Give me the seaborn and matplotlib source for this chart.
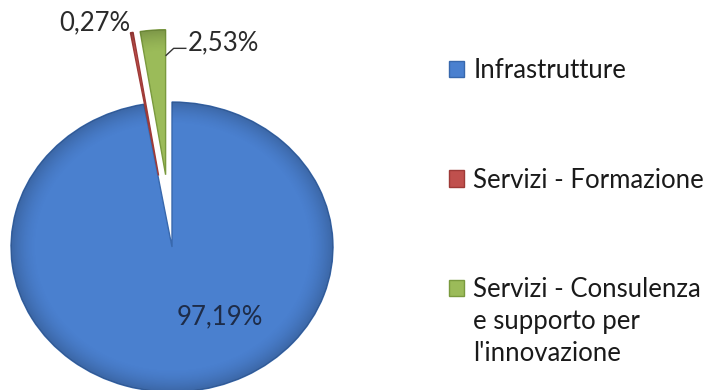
import matplotlib
matplotlib.use("Agg")
import matplotlib.pyplot as plt
import numpy as np
import seaborn as sns

# Shares of funding by type of intervention (percent)
categories = [
    "Infrastrutture",
    "Servizi - Formazione",
    "Servizi - Consulenza\ne supporto per\nl'innovazione",
]
shares = [97.19, 0.27, 2.53]
explode = [0.0, 0.5, 0.5]
colors = ["#4A80CF", "#C0504D", "#9BBB59"]
edge_colors = ["#3868AD", "#9E3A37", "#7A9A3E"]

sns.set_theme(style="white")
plt.rcParams["font.family"] = ["Lato", "DejaVu Sans"]

W, H = 712, 390
fig = plt.figure(figsize=(W / 100, H / 100), dpi=100)
fig.patch.set_facecolor("white")

# Pie area on the left; ellipse radii in pixels give the slightly tilted look
px_left, px_right = 0, 360
cx, cy = 172, 247          # pie centre, pixels from top-left
rx, ry = 161, 145
ax = fig.add_axes([px_left / W, 0, (px_right - px_left) / W, 1])

wedges, _ = ax.pie(
    shares,
    colors=colors,
    startangle=90,
    counterclock=False,
    explode=explode,
    wedgeprops=dict(linewidth=1.0),
)
for w, ec in zip(wedges, edge_colors):
    w.set_edgecolor(ec)

# Soft darkening towards the rim of each slice (bevel look)
for w in wedges:
    wx, wy = w.center
    n = 300
    xs = np.linspace(wx - 1.05, wx + 1.05, n)
    ys = np.linspace(wy - 1.05, wy + 1.05, n)
    X, Y = np.meshgrid(xs, ys)
    R = np.hypot(X - wx, Y - wy)
    alpha = np.clip((R - 0.84) / 0.16, 0, 1) ** 1.6 * 0.2
    img = np.zeros((n, n, 4))
    img[..., 3] = alpha
    im = ax.imshow(img, extent=(xs[0], xs[-1], ys[0], ys[-1]), origin="lower",
                   aspect="auto", interpolation="bilinear",
                   zorder=w.get_zorder() + 0.1)
    im.set_clip_path(w)

ax.set_aspect("auto")
ax.set_xlim(-(cx - px_left) / rx, (px_right - cx) / rx)
ax.set_ylim(-(H - cy) / ry, cy / ry)
ax.axis("off")


def pct(v):
    return f"{v:.2f}".replace(".", ",") + "%"


fs = 18.5
ax.text(0.30, -0.48, pct(shares[0]), ha="center", va="center",
        fontsize=fs, color="#1E2C48", zorder=5)
ax.text(-0.26, 1.545, pct(shares[1]), ha="right", va="center",
        fontsize=fs, color="#2a2a2a")
ax.text(0.095, 1.405, pct(shares[2]), ha="left", va="center",
        fontsize=fs, color="#2a2a2a")

# Leader line from the green slice to its label
g = wedges[2]
gx, gy = g.center
edge_ang = np.deg2rad(min(g.theta1, g.theta2))
p0 = (gx + 0.82 * np.cos(edge_ang), gy + 0.82 * np.sin(edge_ang))
ax.plot([p0[0], p0[0] + 0.05, 0.09], [p0[1], 1.37, 1.37],
        color="#333333", lw=1.0, solid_capstyle="butt")

# Legend: swatch sits beside the first line of each label
first_lines = [c.split("\n")[0] for c in categories]
leg = ax.legend(
    wedges, first_lines,
    loc="upper left",
    bbox_to_anchor=(449 / W, 1 - 58 / H),
    bbox_transform=fig.transFigure,
    frameon=False,
    fontsize=fs,
    handlelength=0.6,
    handleheight=0.6,
    handletextpad=0.35,
    labelspacing=3.29,
    borderpad=0,
    borderaxespad=0,
)
for t in leg.get_texts():
    t.set_color("#1a1a1a")

# Continuation lines of wrapped labels, placed under the first line
fig.canvas.draw()
for txt, full in zip(leg.get_texts(), categories):
    rest = full.split("\n")[1:]
    if rest:
        bb = txt.get_window_extent()
        x0 = bb.x0 / W
        y_line = (bb.y0 + bb.y1) / 2
        step = 32
        for k, line in enumerate(rest, start=1):
            fig.text(x0, (y_line - k * step) / H, line, ha="left", va="center",
                     fontsize=fs, color="#1a1a1a")

fig.savefig("out.png", dpi=100, facecolor="white")
